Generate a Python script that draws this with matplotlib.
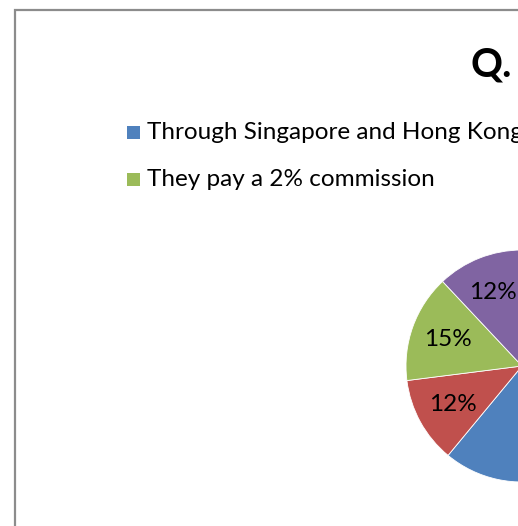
import matplotlib

matplotlib.use("Agg")

import matplotlib.pyplot as plt
from matplotlib.patches import Rectangle

plt.rcParams["font.family"] = ["Lato", "DejaVu Sans"]

# Pie shares (percent), clockwise from 12 o'clock
shares = [61, 12, 15, 12]
slice_colors = ["#4F81BD", "#C0504D", "#9BBB59", "#8064A2"]

# First legend column (entries 1 and 3)
legend_labels = ["Through Singapore and Hong Kong", "They pay a 2% commission"]
legend_colors = [slice_colors[0], slice_colors[2]]

title_text = "Q."

W, H = 518, 526
fig = plt.figure(figsize=(W / 100, H / 100), dpi=100)
ax = fig.add_axes([0, 0, 1, 1])

wedges, texts, autotexts = ax.pie(
    shares,
    colors=slice_colors,
    startangle=90,
    counterclock=False,
    center=(522, H - 366),
    radius=116,
    autopct=lambda p: f"{p:.0f}%",
    pctdistance=0.68,
    wedgeprops={"edgecolor": "white", "linewidth": 0.6},
    textprops={"fontsize": 17.5, "color": "black"},
    frame=True,
)
ax.set_xlim(0, W)
ax.set_ylim(0, H)
ax.set_aspect("equal")
ax.axis("off")

# chart area border (runs past the right and bottom edges)
ax.add_patch(Rectangle((14.5, -20), 600, H - 9.5 + 20, fill=False,
                       edgecolor="#8c8c8c", linewidth=1.6))

ax.text(471, H - 77, title_text, fontsize=28.5, fontweight="bold",
        ha="left", va="baseline", color="black")

# legend, one entry per row
row_base = [H - 139, H - 186]
for label, color, yb in zip(legend_labels, legend_colors, row_base):
    ax.add_patch(Rectangle((127, yb), 13, 13, facecolor=color, edgecolor="none"))
    ax.text(147, yb, label, fontsize=17.5, ha="left", va="baseline", color="black")

fig.savefig("out.png", dpi=100)
